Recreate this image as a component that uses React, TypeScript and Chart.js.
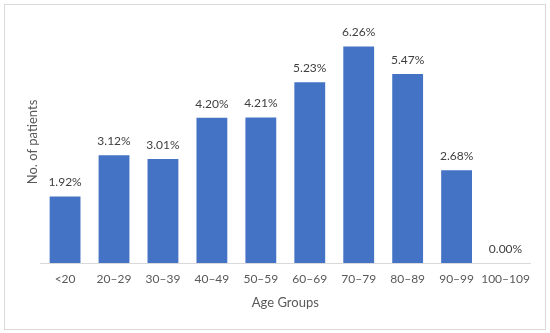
import React, { useEffect, useRef } from "react";
import { Chart, registerables } from "chart.js";

Chart.register(...registerables);

const categories = ["<20", "20–29", "30–39", "40–49", "50–59", "60–69", "70–79", "80–89", "90–99", "100–109"];
const values = [1.92, 3.12, 3.01, 4.2, 4.21, 5.23, 6.26, 5.47, 2.68, 0.0];
const valueLabels = ["1.92%", "3.12%", "3.01%", "4.20%", "4.21%", "5.23%", "6.26%", "5.47%", "2.68%", "0.00%"];
const xTitle = "Age Groups";
const yTitle = "No. of patients";

const FONT = "Lato, 'Open Sans', sans-serif";

const frame = {
  id: "frame",
  beforeDraw(chart: any) {
    const ctx = chart.ctx;
    ctx.save();
    ctx.fillStyle = "#ffffff";
    ctx.fillRect(0, 0, chart.width, chart.height);
    ctx.strokeStyle = "#d9d9d9";
    ctx.lineWidth = 1;
    ctx.strokeRect(4.5, 4.5, 541, 325);
    ctx.restore();
  },
};

const barLabels = {
  id: "barLabels",
  afterDatasetsDraw(chart: any) {
    const ctx = chart.ctx;
    const meta = chart.getDatasetMeta(0);
    ctx.save();
    ctx.font = `12px ${FONT}`;
    ctx.fillStyle = "#404040";
    ctx.textAlign = "center";
    ctx.textBaseline = "middle";
    meta.data.forEach((el: any, i: number) => {
      ctx.fillText(valueLabels[i], el.x, el.y - 14);
    });
    ctx.restore();
  },
};

export default function App() {
  const ref = useRef<HTMLCanvasElement>(null);
  useEffect(() => {
    document.body.style.margin = "0";
    const chart = new Chart(ref.current!, {
      type: "bar",
      data: {
        labels: categories,
        datasets: [
          {
            data: values,
            backgroundColor: "#4472C4",
            categoryPercentage: 1,
            barPercentage: 0.63,
          },
        ],
      },
      options: {
        animation: false,
        responsive: false,
        layout: { padding: { left: 25, right: 20, top: 21, bottom: 22 } },
        plugins: { legend: { display: false }, tooltip: { enabled: false } },
        scales: {
          x: {
            grid: { display: false, drawTicks: false },
            border: { display: true, color: "#d9d9d9" },
            ticks: { color: "#595959", font: { family: FONT, size: 12 }, padding: 9, maxRotation: 0, autoSkip: false },
            title: { display: true, text: xTitle, color: "#595959", font: { family: FONT, size: 13 }, padding: { top: 0, bottom: 0 } },
          },
          y: {
            min: 0,
            max: 7,
            grid: { display: false, drawTicks: false },
            border: { display: false },
            ticks: { display: false },
            title: { display: true, text: yTitle, color: "#595959", font: { family: FONT, size: 13 }, padding: 0 },
          },
        },
      },
      plugins: [frame, barLabels],
    });
    return () => chart.destroy();
  }, []);
  return <canvas ref={ref} width={550} height={333} style={{ display: "block" }} />;
}
